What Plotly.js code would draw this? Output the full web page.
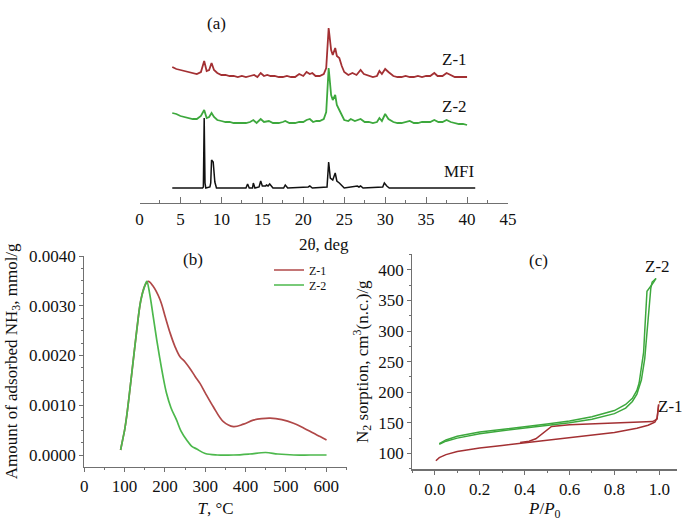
<!DOCTYPE html>
<html>
<head>
<meta charset="utf-8">
<script src="https://cdn.plot.ly/plotly-3.0.1.min.js"></script>
<style>html,body{margin:0;padding:0;background:#fff;}#chart{width:685px;height:524px;}</style>
</head>
<body>
<div id="chart"></div>
<script>
// ---------- Panel (a): XRD patterns (stacked, arbitrary intensity units) ----------
const xrdZ1_2theta = [4,4.5,5,5.5,6,6.5,7,7.5,7.9,8.2,8.5,8.8,9.1,9.5,10,10.5,11,11.5,12,12.5,13,13.5,14,14.4,14.8,15.2,15.6,16,16.5,17,17.5,18,18.5,19,19.5,20,20.4,20.8,21.1,21.5,22,22.5,22.8,23.1,23.4,23.6,23.9,24.1,24.4,24.7,25,25.5,26,26.5,27,27.4,28,28.5,29,29.3,29.6,30,30.4,31,31.5,32,32.5,33,33.5,34,34.5,35,35.5,36,36.4,37,37.5,38,38.5,39,39.5,40];
const xrdZ1_int = [136,134,133,132,131,130,129,131,142,132,133,140,133,130,128,128,127,127,126,127,126,127,128,126,130,127,128,127,127,126,126,127,126,126,129,127,131,129,130,127,127,129,135,175,153,148,155,147,145,137,131,128,130,128,133,129,127,126,127,132,129,134,131,127,126,126,127,126,126,127,126,127,127,130,127,127,130,128,126,126,126,126];
const xrdZ2_2theta = [4,4.5,5,5.5,6,6.5,7,7.5,7.9,8.2,8.5,8.8,9.1,9.5,10,10.5,11,11.5,12,12.5,13,13.5,13.9,14.3,14.8,15.2,15.8,16.3,17,17.5,17.8,18.3,19,19.5,20,20.4,20.8,21.2,21.6,22,22.5,22.8,23.1,23.4,23.6,23.9,24.1,24.4,24.7,25,25.5,25.8,26.3,26.6,27,27.5,28,28.5,29,29.3,29.6,30,30.4,31,31.5,32,32.5,33,33.5,34,34.5,35,35.5,36,36.5,37,37.5,38,38.5,39,39.5,40];
const xrdZ2_int = [90,89,87,86,85,84,84,87,93,85,86,90,86,83,82,81,81,80,80,80,80,81,83,80,84,81,82,80,80,81,82,80,80,81,81,83,84,81,82,82,84,91,135,108,103,108,98,93,88,83,82,84,82,83,84,81,81,80,81,85,82,89,84,81,80,80,81,82,80,80,81,81,81,83,81,81,83,81,80,79,79,78];
const xrdMFI_2theta = [4,7.7,7.8,7.9,8.0,8.1,8.6,8.7,8.8,9.0,9.2,9.4,13.0,13.2,13.4,13.8,13.9,14.1,14.6,14.8,15.0,15.4,15.5,15.7,15.9,16.3,17.6,17.8,18.1,20.6,20.8,21.1,22.9,23.1,23.3,23.6,23.9,24.1,24.4,24.7,25.0,26.6,26.8,27.0,27.3,29.7,29.9,30.2,30.5,41];
const xrdMFI_int = [15,15,16,85,20,15,16,20,43,41,21,15,15,19,15,15,20,15,16,22,17,17,18,17,19,15,15,18,15,16,17,15,16,41,25,23,30,22,20,17,15,17,16,17,15,16,20,17,15,15];
const xrdLabels = ['Z-1','Z-2','MFI'];

// ---------- Panel (b): NH3-TPD ----------
const tpdZ1_T = [90,95,100,105,110,120,130,140,150,159,170,188,200,213,225,237,250,262,275,287,300,320,345,370,395,419,440,461,490,519,545,568,585,601];
const tpdZ1_v = [0.0001,0.0003,0.0005,0.00077,0.0011,0.0018,0.0025,0.0031,0.0034,0.00349,0.00340,0.00312,0.00280,0.00245,0.00218,0.00198,0.00187,0.00174,0.00158,0.00144,0.00125,0.00097,0.00067,0.00057,0.00062,0.00070,0.00073,0.00074,0.00071,0.00064,0.00054,0.00044,0.00037,0.0003];
const tpdZ2_T = [90,95,100,105,110,120,130,140,150,155,162,171,180,188,196,204,215,229,240,254,266,279,300,330,370,410,450,480,520,560,601];
const tpdZ2_v = [0.0001,0.0003,0.0005,0.00077,0.0011,0.0018,0.0025,0.0031,0.0034,0.00349,0.00325,0.00278,0.00230,0.00191,0.00155,0.00124,0.00095,0.0007,0.00048,0.0003,0.00018,0.00012,0.00003,0.0,0.0,0.00002,0.00005,0.00002,0.0,0.0,0.0];
const tpdNames = ['Z-1','Z-2'];

// ---------- Panel (c): N2 sorption isotherms ----------
const isoZ1_adsP = [0.005,0.02,0.05,0.1,0.15,0.2,0.3,0.4,0.5,0.6,0.7,0.8,0.9,0.95,0.98,0.99,0.997];
const isoZ1_adsV = [88,93,98,103,106,109,113,117,121,125,129,134,141,146,151,158,180];
const isoZ1_desP = [0.997,0.99,0.97,0.9,0.8,0.7,0.6,0.52,0.48,0.45,0.42,0.38];
const isoZ1_desV = [180,156,152,151,150,149,147,144,133,124,120,118];
const isoZ2_adsP = [0.02,0.05,0.1,0.2,0.3,0.4,0.5,0.6,0.7,0.8,0.85,0.88,0.9,0.92,0.935,0.945,0.955,0.962,0.968,0.985];
const isoZ2_adsV = [115,120,125,132,137,141,145,150,156,165,174,185,197,220,255,295,340,370,380,386];
const isoZ2_desP = [0.985,0.975,0.945,0.94,0.935,0.93,0.92,0.91,0.9,0.88,0.85,0.8,0.7,0.6,0.5,0.4,0.3,0.2,0.1,0.05,0.02];
const isoZ2_desV = [386,380,365,340,300,265,235,215,203,190,180,170,160,153,148,144,140,135,128,122,116];

const RED = '#a33033';
const GREEN = '#3da83d';
const FONT = 'Liberation Serif, Times New Roman, serif';
const AX = '#707070';

const traces = [
  {x: xrdZ1_2theta, y: xrdZ1_int, xaxis:'x', yaxis:'y', mode:'lines', line:{color:RED, width:1.8}, showlegend:false, hoverinfo:'skip'},
  {x: xrdZ2_2theta, y: xrdZ2_int, xaxis:'x', yaxis:'y', mode:'lines', line:{color:GREEN, width:1.8}, showlegend:false, hoverinfo:'skip'},
  {x: xrdMFI_2theta, y: xrdMFI_int, xaxis:'x', yaxis:'y', mode:'lines', line:{color:'#111', width:1.5}, showlegend:false, hoverinfo:'skip'},
  {x: tpdZ1_T, y: tpdZ1_v, xaxis:'x2', yaxis:'y2', mode:'lines', name:tpdNames[0], legend:'legend', line:{color:'#b04848', width:1.7, shape:'spline'}},
  {x: tpdZ2_T, y: tpdZ2_v, xaxis:'x2', yaxis:'y2', mode:'lines', name:tpdNames[1], legend:'legend2', line:{color:'#4cb84c', width:1.7, shape:'spline'}},
  {x: isoZ1_adsP, y: isoZ1_adsV, xaxis:'x3', yaxis:'y3', mode:'lines', line:{color:RED, width:1.5}, showlegend:false},
  {x: isoZ1_desP, y: isoZ1_desV, xaxis:'x3', yaxis:'y3', mode:'lines', line:{color:RED, width:1.5}, showlegend:false},
  {x: isoZ2_adsP, y: isoZ2_adsV, xaxis:'x3', yaxis:'y3', mode:'lines', line:{color:GREEN, width:1.5}, showlegend:false},
  {x: isoZ2_desP, y: isoZ2_desV, xaxis:'x3', yaxis:'y3', mode:'lines', line:{color:GREEN, width:1.5}, showlegend:false}
];

const W = 685, H = 524;
const px = v => v / W;
const py = v => 1 - v / H;
const tickFont = {family: FONT, size: 17, color: '#111'};
const titleFont = {family: FONT, size: 17, color: '#111'};
const legFont = {family: FONT, size: 12, color: '#111'};

const layout = {
  width: W, height: H,
  margin: {l:0, r:0, t:0, b:0},
  paper_bgcolor: '#fff', plot_bgcolor: 'rgba(0,0,0,0)',
  font: {family: FONT, color: '#111'},
  showlegend: true,
  legend: {x: px(269), y: py(270), xanchor:'left', yanchor:'middle', bgcolor:'rgba(0,0,0,0)', font:legFont},
  legend2: {x: px(269), y: py(285), xanchor:'left', yanchor:'middle', bgcolor:'rgba(0,0,0,0)', font:legFont},
  xaxis: {domain:[px(139.5), px(508)], range:[0,45], anchor:'y', showgrid:false, zeroline:false, showline:true, linecolor:AX, linewidth:1.2,
    ticks:'inside', ticklen:6, tickcolor:AX, dtick:5, tick0:0, tickfont:tickFont,
    minor:{dtick:2.5, ticks:'inside', ticklen:3, tickcolor:AX},
    title:{text:'2θ, deg', font:titleFont, standoff:10}},
  yaxis: {domain:[py(203), py(20)], range:[0,183], anchor:'x', visible:false, fixedrange:true},
  xaxis2: {domain:[px(84.3), px(346.7)], range:[0,651], anchor:'y2', showgrid:false, zeroline:false, showline:true, linecolor:AX, linewidth:1.2,
    ticks:'outside', ticklen:4, tickcolor:AX, dtick:100, tick0:0, tickfont:tickFont,
    minor:{dtick:50, ticks:'outside', ticklen:2, tickcolor:AX},
    title:{text:'<i>T</i>, °C', font:titleFont, standoff:6}},
  yaxis2: {domain:[py(466.7), py(256)], range:[-0.000235, 0.004], anchor:'x2', showgrid:false, zeroline:false, showline:true, linecolor:AX, linewidth:1.2,
    ticks:'outside', ticklen:4, tickcolor:AX, dtick:0.001, tick0:0, tickformat:'.4f', tickfont:tickFont,
    minor:{dtick:0.00025, ticks:'outside', ticklen:2, tickcolor:AX},
    title:{text:'Amount of adsorbed NH<sub>3</sub>, mmol/g', font:titleFont, standoff:7}},
  xaxis3: {domain:[px(412.3), px(677.3)], range:[-0.1,1.08], anchor:'y3', showgrid:false, zeroline:false, showline:true, linecolor:AX, linewidth:1.2,
    ticks:'outside', ticklen:4, tickcolor:AX, dtick:0.2, tick0:0, tickformat:'.1f', tickfont:tickFont,
    minor:{dtick:0.1, ticks:'outside', ticklen:2, tickcolor:AX},
    title:{text:'<i>P</i>/<i>P</i><sub>0</sub>', font:titleFont, standoff:4}},
  yaxis3: {domain:[py(469.3), py(254)], range:[74,426], anchor:'x3', showgrid:false, zeroline:false, showline:true, linecolor:AX, linewidth:1.2,
    ticks:'outside', ticklen:4, tickcolor:AX, dtick:50, tick0:0, tickfont:tickFont,
    minor:{dtick:25, ticks:'outside', ticklen:2, tickcolor:AX},
    title:{text:'N<sub>2</sub> sorption, cm<sup>3</sup>(n.c.)/g', font:titleFont, standoff:5}},
  annotations: [
    {text:'(a)', xref:'paper', yref:'paper', x:px(205), y:py(12), showarrow:false, font:{family:FONT, size:17, color:'#111'}},
    {text:'(b)', xref:'paper', yref:'paper', x:px(181), y:py(259), showarrow:false, font:{family:FONT, size:17, color:'#111'}},
    {text:'(c)', xref:'paper', yref:'paper', x:px(550), y:py(260), showarrow:false, font:{family:FONT, size:17, color:'#111'}},
    {text:xrdLabels[0], xref:'x', yref:'y', x:38.5, y:143, showarrow:false, font:{family:FONT, size:17, color:'#111'}},
    {text:xrdLabels[1], xref:'x', yref:'y', x:38.5, y:96, showarrow:false, font:{family:FONT, size:17, color:'#111'}},
    {text:xrdLabels[2], xref:'x', yref:'y', x:39.1, y:31, showarrow:false, font:{family:FONT, size:17, color:'#111'}},
    {text:'Z-2', xref:'x3', yref:'y3', x:0.994, y:405, showarrow:false, font:{family:FONT, size:17, color:'#111'}},
    {text:'Z-1', xref:'x3', yref:'y3', x:1.05, y:176, showarrow:false, font:{family:FONT, size:17, color:'#111'}}
  ]
};

Plotly.newPlot('chart', traces, layout, {staticPlot:true, displayModeBar:false});
</script>
</body>
</html>
